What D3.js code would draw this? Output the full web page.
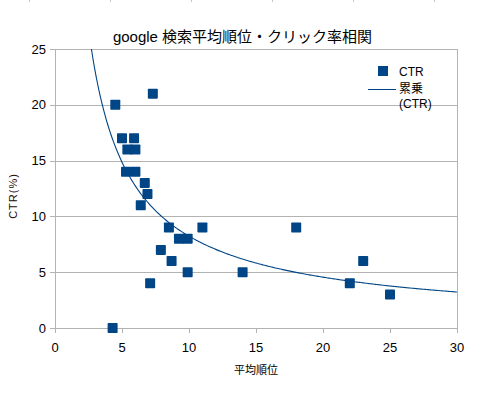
<!doctype html>
<html lang="ja">
<head>
<meta charset="UTF-8">
<title>google 検索平均順位・クリック率相関</title>
<script src="https://d3js.org/d3.v7.min.js"></script>
<style>
  body { margin: 0; background: #fff; }
  text { font-family: "Liberation Sans", Arial, "Noto Sans CJK JP", sans-serif; }
</style>
</head>
<body>
<div id="chart"></div>
<script>
// average rank (x) and CTR % (y)
var rank = [4.3, 4.5, 7.3, 5.0, 5.9, 5.4, 6.0, 5.3, 6.0, 6.7, 6.9, 6.4, 8.5, 11.0,
            9.25, 9.9, 7.9, 8.7, 9.9, 14.0, 7.1, 18.0, 22.0, 23.0, 25.0];
var ctr  = [0, 20, 21, 17, 17, 16, 16, 14, 14, 13, 12, 11, 9, 9,
            8, 8, 7, 6, 5, 5, 4, 9, 4, 6, 3];
var xTicks = [0, 5, 10, 15, 20, 25, 30];
var yTicks = [0, 5, 10, 15, 20, 25];

var width = 485, height = 398;
var margin = {top: 49, right: 28, bottom: 70, left: 55};
var blue = "#004586", grey = "#b3b3b3";

var svg = d3.select("#chart").append("svg")
    .attr("width", width)
    .attr("height", height);

// faint sheet cell marks along the top edge
svg.selectAll("line.cell")
    .data([29.5, 110.5, 191.5, 272.5, 353.5, 434.5])
    .enter().append("line")
    .attr("x1", function(d) { return d; })
    .attr("x2", function(d) { return d; })
    .attr("y1", 0).attr("y2", 2)
    .attr("stroke", "#c8c8c8");

var x = d3.scaleLinear().domain([0, 30]).range([margin.left, width - margin.right]);
var y = d3.scaleLinear().domain([0, 25]).range([height - margin.bottom, margin.top]);

// horizontal grid
svg.append("g").selectAll("line")
    .data(yTicks)
    .enter().append("line")
    .attr("x1", x(0) - 5).attr("x2", x(30))
    .attr("y1", function(d) { return Math.round(y(d)) + 0.5; })
    .attr("y2", function(d) { return Math.round(y(d)) + 0.5; })
    .attr("stroke", grey);

// axis lines + right border
svg.append("line")
    .attr("x1", Math.round(x(0)) + 0.5).attr("x2", Math.round(x(0)) + 0.5)
    .attr("y1", y(25)).attr("y2", y(0) + 5)
    .attr("stroke", grey);
svg.append("line")
    .attr("x1", Math.round(x(30)) + 0.5).attr("x2", Math.round(x(30)) + 0.5)
    .attr("y1", y(25)).attr("y2", y(0) + 5)
    .attr("stroke", grey);
svg.append("g").selectAll("line")
    .data(xTicks)
    .enter().append("line")
    .attr("x1", function(d) { return Math.round(x(d)) + 0.5; })
    .attr("x2", function(d) { return Math.round(x(d)) + 0.5; })
    .attr("y1", y(0)).attr("y2", y(0) + 5)
    .attr("stroke", grey);

// tick labels
svg.append("g").selectAll("text")
    .data(yTicks)
    .enter().append("text")
    .attr("x", x(0) - 9)
    .attr("y", function(d) { return y(d) + 4.5; })
    .attr("text-anchor", "end")
    .attr("font-size", "13px")
    .text(function(d) { return d; });
svg.append("g").selectAll("text")
    .data(xTicks)
    .enter().append("text")
    .attr("x", function(d) { return x(d); })
    .attr("y", y(0) + 24)
    .attr("text-anchor", "middle")
    .attr("font-size", "13px")
    .text(function(d) { return d; });

// power trend line, fitted on points with y > 0 (ln y = ln a + b ln x)
var pts = rank.map(function(r, i) { return [r, ctr[i]]; }).filter(function(p) { return p[1] > 0; });
var lx = pts.map(function(p) { return Math.log(p[0]); });
var ly = pts.map(function(p) { return Math.log(p[1]); });
var mx = d3.mean(lx), my = d3.mean(ly);
var b = d3.sum(lx, function(v, i) { return (v - mx) * (ly[i] - my); }) /
        d3.sum(lx, function(v) { return (v - mx) * (v - mx); });
var a = Math.exp(my - b * mx);
var xStart = Math.pow(25 / a, 1 / b);
var trend = d3.range(0, 301).map(function(i) {
    var xv = xStart + (30 - xStart) * i / 300;
    return [xv, a * Math.pow(xv, b)];
});
svg.append("path")
    .datum(trend)
    .attr("fill", "none")
    .attr("stroke", blue)
    .attr("stroke-width", 1.1)
    .attr("d", d3.line()
        .x(function(d) { return x(d[0]); })
        .y(function(d) { return y(d[1]); }));

// points
svg.append("g").selectAll("rect")
    .data(rank)
    .enter().append("rect")
    .attr("x", function(d) { return x(d) - 5; })
    .attr("y", function(d, i) { return y(ctr[i]) - 5; })
    .attr("width", 10)
    .attr("height", 10)
    .attr("rx", 0.8)
    .attr("fill", blue);

// title and axis titles
svg.append("text")
    .attr("x", width / 2)
    .attr("y", 42)
    .attr("text-anchor", "middle")
    .attr("font-size", "15px")
    .text("google 検索平均順位・クリック率相関");
svg.append("text")
    .attr("x", (x(0) + x(30)) / 2)
    .attr("y", 374)
    .attr("text-anchor", "middle")
    .attr("font-size", "11px")
    .text("平均順位");
svg.append("text")
    .attr("transform", "translate(17,196) rotate(-90)")
    .attr("text-anchor", "middle")
    .attr("font-size", "11px")
    .attr("letter-spacing", "1px")
    .attr("fill", "#1a0a0a")
    .text("CTR(%)");

// legend
var lg = svg.append("g");
lg.append("rect")
    .attr("x", 378).attr("y", 66)
    .attr("width", 10).attr("height", 10)
    .attr("fill", blue);
lg.append("text")
    .attr("x", 399).attr("y", 76)
    .attr("font-size", "12px")
    .text("CTR");
lg.append("line")
    .attr("x1", 368).attr("x2", 396)
    .attr("y1", 89.5).attr("y2", 89.5)
    .attr("stroke", blue);
lg.append("text")
    .attr("x", 399).attr("y", 93)
    .attr("font-size", "12px")
    .text("累乗");
lg.append("text")
    .attr("x", 399).attr("y", 108)
    .attr("font-size", "12px")
    .text("(CTR)");
</script>
</body>
</html>
